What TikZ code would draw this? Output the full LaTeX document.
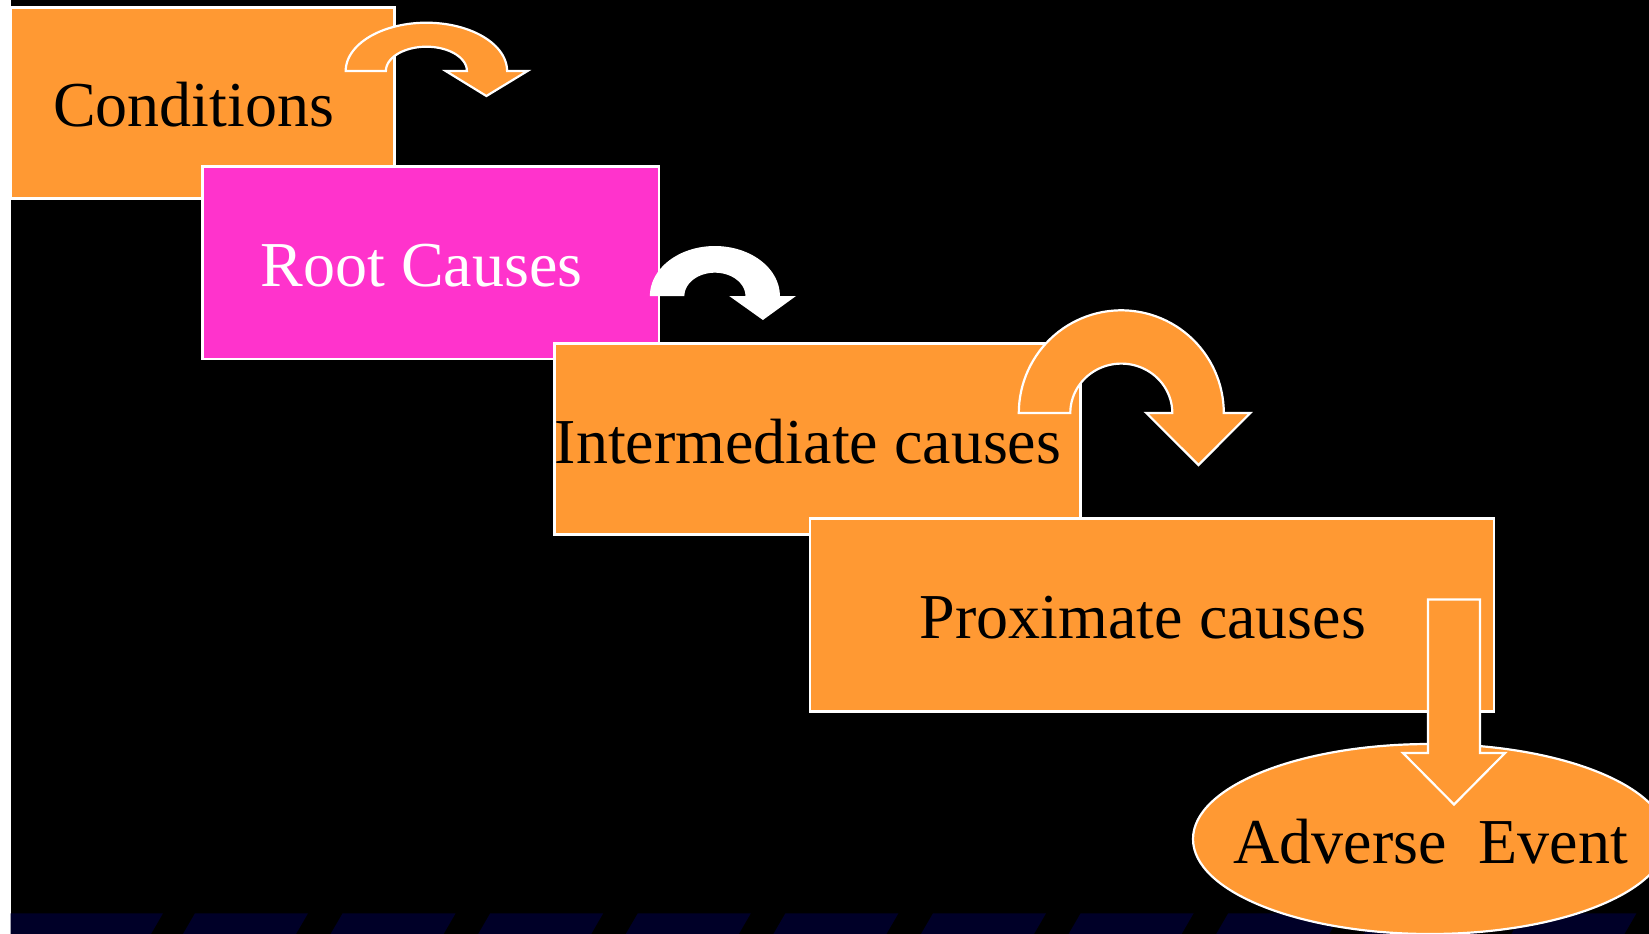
\documentclass[tikz,border=0pt]{standalone}
\usepackage{fontspec}
\setmainfont{Liberation Serif}
\usetikzlibrary{shapes.geometric}
\definecolor{stageorange}{RGB}{255,153,51}
\definecolor{stagepink}{RGB}{255,51,204}
\definecolor{footnavy}{RGB}{0,0,40}
\begin{document}
\begin{tikzpicture}[x=1pt,y=-1pt,
  stagebox/.style={rectangle, draw=white, line width=2.5pt, inner sep=0pt},
  stagelabel/.style={anchor=base, inner sep=0pt, font=\fontsize{64}{70}\selectfont},
  blockarrow/.style={fill=stageorange, draw=white, line width=2.2pt, line join=miter},
  whitearrow/.style={fill=white},
  footband/.style={fill=footnavy},
]
\useasboundingbox (0,0) rectangle (1649,934);
% background: black slide with a white margin on the left
\fill[black] (0,0) rectangle (1649,934);
\fill[white] (0,0) rectangle (10.7,934);

% slanted footer band
\fill[footband] (10.7,913.3) -- (163,913.3) -- (151,934) -- (10.7,934) -- cycle;
\foreach \k in {0,...,10}{
  \pgfmathsetmacro{\L}{195+147.6*\k}
  \fill[footband] (\L,913.3) -- (\L+113,913.3) -- (\L+101,934) -- (\L-12,934) -- cycle;
}

% Conditions
\node[stagebox, fill=stageorange, minimum width=383.5pt, minimum height=191pt] (cond) at (202.75,103) {};
\node[stagelabel] (condtext) at (193.7,126.7) {Conditions};
\draw[blockarrow] plot[domain=180:360, samples=60] ({426.4+80.7*cos(\x)}, {71+48.3*sin(\x)})
  -- (527.5,71) -- (486.4,96) -- (445.7,71)
  -- plot[domain=360:180, samples=60] ({426.4+40.5*cos(\x)}, {71+24.3*sin(\x)}) -- cycle;

% Root Causes
\node[stagebox, fill=stagepink, minimum width=456.7pt, minimum height=192.3pt] (root) at (430.85,262.85) {};
\node[stagelabel, text=white] (roottext) at (421.7,286.7) {Root Causes};
\fill[whitearrow] plot[domain=180:360, samples=60] ({714.9+65*cos(\x)}, {296+50*sin(\x)})
  -- (796,296) -- (762.9,320) -- (729.2,296)
  -- plot[domain=360:180, samples=60] ({714.9+30.5*cos(\x)}, {296+23.3*sin(\x)}) -- cycle;

% Intermediate causes
\node[stagebox, fill=stageorange, minimum width=526pt, minimum height=191pt] (inter) at (817.6,438.8) {};
\node[stagelabel] (intertext) at (808,463.3) {Intermediate causes};
\draw[blockarrow] plot[domain=180:360, samples=60] ({1121.3+102.5*cos(\x)}, {413+102.7*sin(\x)})
  -- (1250.3,413) -- (1198.5,465) -- (1146.3,413)
  -- plot[domain=360:180, samples=60] ({1121.3+51*cos(\x)}, {413+49.4*sin(\x)}) -- cycle;

% Proximate causes
\node[stagebox, fill=stageorange, minimum width=684.2pt, minimum height=193pt] (prox) at (1151.9,615) {};
\node[stagelabel] (proxtext) at (1143,638.4) {Proximate causes};

% Adverse Event
\node[ellipse, fill=stageorange, draw=white, line width=2.2pt, inner sep=0pt,
      minimum width=474pt, minimum height=190pt] (adverse) at (1430,839) {};
\node[stagelabel] (adversetext) at (1430.8,863.3) {Adverse\ \ Event};

% straight block arrow down into the event
\draw[blockarrow] (1428,599.5) -- (1480,599.5) -- (1480,753) -- (1505,753)
  -- (1454,804.5) -- (1403,753) -- (1428,753) -- cycle;
\end{tikzpicture}
\end{document}
